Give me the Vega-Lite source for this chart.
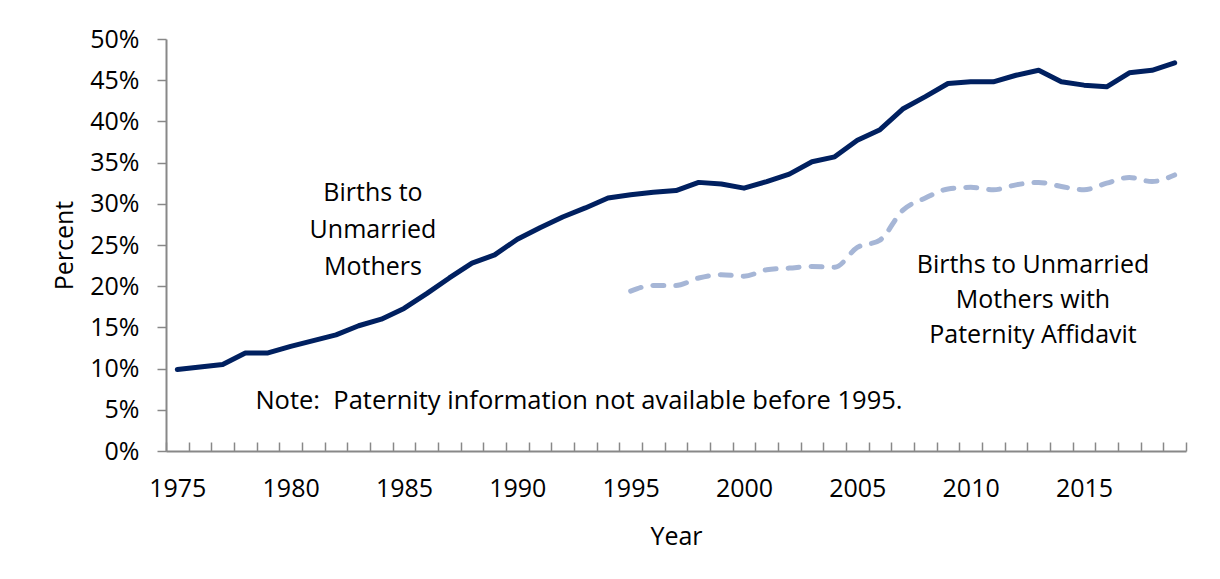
{
  "$schema": "https://vega.github.io/schema/vega-lite/v6.json",
  "autosize": "none",
  "width": 1020,
  "height": 412,
  "padding": {"left": 166, "top": 39, "right": 34, "bottom": 128},
  "background": "white",
  "config": {
    "view": {"stroke": null},
    "font": "Open Sans",
    "axis": {
      "domainColor": "#888888",
      "domainWidth": 2,
      "tickColor": "#888888",
      "tickWidth": 1.5,
      "grid": false,
      "labelFont": "Open Sans",
      "labelFontSize": 25,
      "labelColor": "#000000",
      "titleFont": "Open Sans",
      "titleFontSize": 25,
      "titleFontWeight": "normal",
      "titleColor": "#000000"
    }
  },
  "datasets": {
    "unmarried": [
      {"year": 1975, "pct": 9.9}, {"year": 1976, "pct": 10.2}, {"year": 1977, "pct": 10.5},
      {"year": 1978, "pct": 11.9}, {"year": 1979, "pct": 11.9}, {"year": 1980, "pct": 12.7},
      {"year": 1981, "pct": 13.4}, {"year": 1982, "pct": 14.1}, {"year": 1983, "pct": 15.2},
      {"year": 1984, "pct": 16.0}, {"year": 1985, "pct": 17.3}, {"year": 1986, "pct": 19.1},
      {"year": 1987, "pct": 21.0}, {"year": 1988, "pct": 22.8}, {"year": 1989, "pct": 23.8},
      {"year": 1990, "pct": 25.7}, {"year": 1991, "pct": 27.1}, {"year": 1992, "pct": 28.4},
      {"year": 1993, "pct": 29.5}, {"year": 1994, "pct": 30.7}, {"year": 1995, "pct": 31.1},
      {"year": 1996, "pct": 31.4}, {"year": 1997, "pct": 31.6}, {"year": 1998, "pct": 32.6},
      {"year": 1999, "pct": 32.4}, {"year": 2000, "pct": 31.9}, {"year": 2001, "pct": 32.7},
      {"year": 2002, "pct": 33.6}, {"year": 2003, "pct": 35.1}, {"year": 2004, "pct": 35.7},
      {"year": 2005, "pct": 37.7}, {"year": 2006, "pct": 39.0}, {"year": 2007, "pct": 41.5},
      {"year": 2008, "pct": 43.0}, {"year": 2009, "pct": 44.6}, {"year": 2010, "pct": 44.8},
      {"year": 2011, "pct": 44.8}, {"year": 2012, "pct": 45.6}, {"year": 2013, "pct": 46.2},
      {"year": 2014, "pct": 44.8}, {"year": 2015, "pct": 44.4}, {"year": 2016, "pct": 44.2},
      {"year": 2017, "pct": 45.9}, {"year": 2018, "pct": 46.2}, {"year": 2019, "pct": 47.1}
    ],
    "affidavit": [
      {"year": 1995, "pct": 19.4}, {"year": 1996, "pct": 20.1}, {"year": 1997, "pct": 20.1},
      {"year": 1998, "pct": 21.0}, {"year": 1999, "pct": 21.4}, {"year": 2000, "pct": 21.2},
      {"year": 2001, "pct": 22.0}, {"year": 2002, "pct": 22.2}, {"year": 2003, "pct": 22.4},
      {"year": 2004, "pct": 22.3}, {"year": 2005, "pct": 24.7}, {"year": 2006, "pct": 25.6},
      {"year": 2007, "pct": 29.2}, {"year": 2008, "pct": 30.7}, {"year": 2009, "pct": 31.8},
      {"year": 2010, "pct": 32.0}, {"year": 2011, "pct": 31.7}, {"year": 2012, "pct": 32.3},
      {"year": 2013, "pct": 32.6}, {"year": 2014, "pct": 32.1}, {"year": 2015, "pct": 31.7},
      {"year": 2016, "pct": 32.5}, {"year": 2017, "pct": 33.2}, {"year": 2018, "pct": 32.7},
      {"year": 2019, "pct": 33.5}
    ]
  },
  "resolve": {"scale": {"x": "independent"}, "axis": {"x": "independent"}},
  "layer": [
    {
      "layer": [
        {
          "data": {"name": "unmarried"},
          "mark": {"type": "line", "color": "#002060", "strokeWidth": 5, "strokeJoin": "round", "strokeCap": "round"},
          "encoding": {
            "x": {
              "field": "year", "type": "quantitative",
              "scale": {"domain": [1974.5, 2019.5], "nice": false, "zero": false},
              "axis": {
                "orient": "bottom",
                "title": "Year",
                "titlePadding": 23,
                "values": [1975, 1980, 1985, 1990, 1995, 2000, 2005, 2010, 2015],
                "format": "d",
                "ticks": false,
                "tickSize": 0,
                "labelOverlap": false,
                "labelFlush": false,
                "labelBound": false,
                "labelPadding": 25
              }
            },
            "y": {
              "field": "pct", "type": "quantitative",
              "scale": {"domain": [0, 50], "nice": false},
              "axis": {
                "title": "Percent",
                "titlePadding": 12,
                "values": [0, 5, 10, 15, 20, 25, 30, 35, 40, 45, 50],
                "labelExpr": "datum.value + '%'",
                "tickSize": 9,
                "labelPadding": 18
              }
            }
          }
        },
        {
          "data": {"values": [{}]},
          "mark": {"type": "text", "font": "Open Sans", "fontSize": 25, "color": "#000000", "align": "center", "baseline": "middle", "lineHeight": 37,
                   "text": ["Births to", "Unmarried", "Mothers"]},
          "encoding": {"x": {"datum": 1983.63, "type": "quantitative"}, "y": {"datum": 31.33, "type": "quantitative"}}
        },
        {
          "data": {"values": [{}]},
          "mark": {"type": "text", "font": "Open Sans", "fontSize": 25, "color": "#000000", "align": "center", "baseline": "middle", "lineHeight": 35,
                   "text": ["Births to Unmarried", "Mothers with", "Paternity Affidavit"]},
          "encoding": {"x": {"datum": 2012.75, "type": "quantitative"}, "y": {"datum": 22.6, "type": "quantitative"}}
        },
        {
          "data": {"values": [{}]},
          "mark": {"type": "text", "font": "Open Sans", "fontSize": 25.5, "color": "#000000", "align": "center", "baseline": "middle",
                   "text": "Note:\u00a0 Paternity information not available before 1995."},
          "encoding": {"x": {"datum": 1992.72, "type": "quantitative"}, "y": {"datum": 6.07, "type": "quantitative"}}
        }
      ]
    },
    {
      "data": {"name": "affidavit"},
      "mark": {"type": "line", "color": "#a6b6d6", "strokeWidth": 5, "strokeDash": [11, 12], "strokeCap": "round", "interpolate": "monotone"},
      "encoding": {
        "x": {
          "field": "year", "type": "quantitative",
          "scale": {"domain": [1974.5, 2019.5], "nice": false, "zero": false},
          "axis": {
            "orient": "bottom",
            "title": null,
            "labels": false,
            "domain": false,
            "values": [1974.5,1975.5,1976.5,1977.5,1978.5,1979.5,1980.5,1981.5,1982.5,1983.5,1984.5,1985.5,1986.5,1987.5,1988.5,1989.5,1990.5,1991.5,1992.5,1993.5,1994.5,1995.5,1996.5,1997.5,1998.5,1999.5,2000.5,2001.5,2002.5,2003.5,2004.5,2005.5,2006.5,2007.5,2008.5,2009.5,2010.5,2011.5,2012.5,2013.5,2014.5,2015.5,2016.5,2017.5,2018.5,2019.5],
            "tickSize": -9
          }
        },
        "y": {"field": "pct", "type": "quantitative"}
      }
    }
  ]
}
